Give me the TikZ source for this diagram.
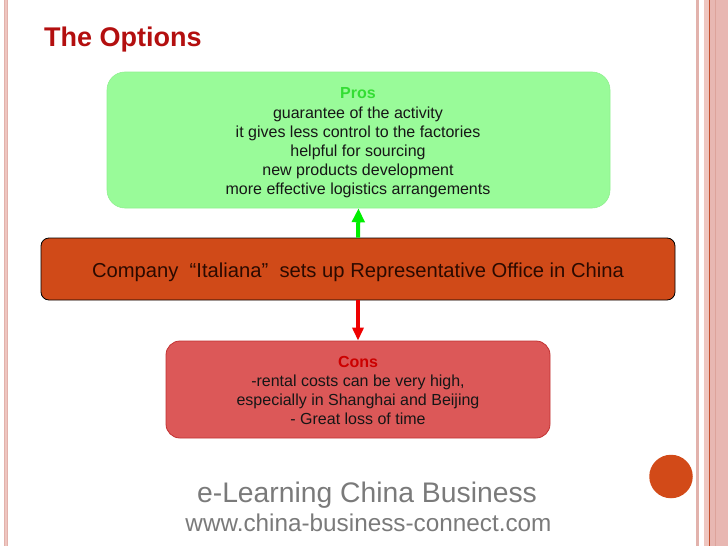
\documentclass[tikz,border=0pt]{standalone}
\usepackage{fontspec}
\setmainfont{Liberation Sans}
\usetikzlibrary{arrows.meta}
\definecolor{titlered}{HTML}{B30F0F}
\definecolor{prosfill}{HTML}{99FB99}
\definecolor{prosline}{HTML}{8FF08F}
\definecolor{prosgreen}{HTML}{33DD33}
\definecolor{midfill}{HTML}{D04A18}
\definecolor{midtext}{HTML}{2B0A00}
\definecolor{consfill}{HTML}{DC5858}
\definecolor{consline}{HTML}{C23232}
\definecolor{consred}{HTML}{CC0000}
\definecolor{bodytext}{HTML}{161616}
\definecolor{footgray}{HTML}{7A7A7A}
\definecolor{arrowgreen}{HTML}{00EE00}
\definecolor{arrowred}{HTML}{EE0000}
\definecolor{dotorange}{HTML}{D24A18}
\definecolor{stripepink}{HTML}{E2B2AC}
\definecolor{bandpink}{HTML}{E8B7B2}
\definecolor{bandlight}{HTML}{EFC6C0}
\definecolor{banddark}{HTML}{DDA39B}
\definecolor{bandline}{HTML}{C4502E}
\begin{document}
\begin{tikzpicture}[x=1pt,y=-1pt,
  prosbox/.style={draw=prosline, fill=prosfill, rounded corners=18pt, line width=0.6pt,
    minimum width=503pt, minimum height=136pt, inner sep=0pt},
  consbox/.style={draw=consline, fill=consfill, rounded corners=14pt, line width=0.8pt,
    minimum width=384pt, minimum height=97pt, inner sep=0pt},
  boxtext/.style={align=center, text=bodytext, font=\fontsize{16}{19.2}\selectfont, inner sep=0pt},
  midbox/.style={draw=black, fill=midfill, rounded corners=8pt, line width=0.8pt,
    minimum width=634pt, minimum height=62pt, text=midtext,
    font=\fontsize{20.2}{24}\selectfont, text height=21pt, text depth=4pt, inner sep=0pt},
  uparrow/.style={draw=arrowgreen, line width=4pt, -{Triangle[width=12.5pt,length=14pt]}},
  downarrow/.style={draw=arrowred, line width=4pt, -{Triangle[width=11pt,length=13pt]}},
  foot/.style={text=footgray, anchor=base, inner sep=0pt}
]
\useasboundingbox (0,0) rectangle (728,546);
% page decoration
\fill[stripepink] (4,0) rectangle (8.3,546);
\fill[bandlight] (5.2,0) rectangle (7.1,546);
\fill[stripepink] (696,0) rectangle (699,546);
\fill[bandpink] (704,0) rectangle (728,546);
\fill[bandlight] (704,0) rectangle (708.7,546);
\fill[banddark] (715,0) rectangle (716,546);
\fill[bandline] (708.7,0) rectangle (710,546);
% title
\node[anchor=base west, inner sep=0pt, text=titlered, font=\bfseries\fontsize{27}{32}\selectfont] (title) at (44,46) {The Options};
% boxes
\node[prosbox] (pros) at (358.5,140) {};
\node[boxtext] (prostext) at (358,143) {{\bfseries\color{prosgreen}Pros}\\guarantee of the activity\\it gives less control to the factories\\helpful for sourcing\\new products development\\more effective logistics arrangements};
\node[midbox] (mid) at (358,269) {Company\ \ “Italiana”\ \ sets up Representative Office in China};
\node[consbox] (cons) at (358,389.5) {};
\node[boxtext] (constext) at (358,390.5) {{\bfseries\color{consred}Cons}\\-rental costs can be very high,\\especially in Shanghai and Beijing\\- Great loss of time};
% arrows
\draw[uparrow] (mid.north) -- (pros.south);
\draw[downarrow] (mid.south) -- (cons.north);
% footer
\node[foot, font=\fontsize{28.3}{32}\selectfont] (foot1) at (367,502.5) {e-Learning China Business};
\node[foot, font=\fontsize{24.3}{28}\selectfont] (foot2) at (368.5,531.5) {www.china-business-connect.com};
% dot
\node[circle, fill=dotorange, minimum size=43.5pt, inner sep=0pt] (dot) at (671,476.5) {};
\end{tikzpicture}
\end{document}
